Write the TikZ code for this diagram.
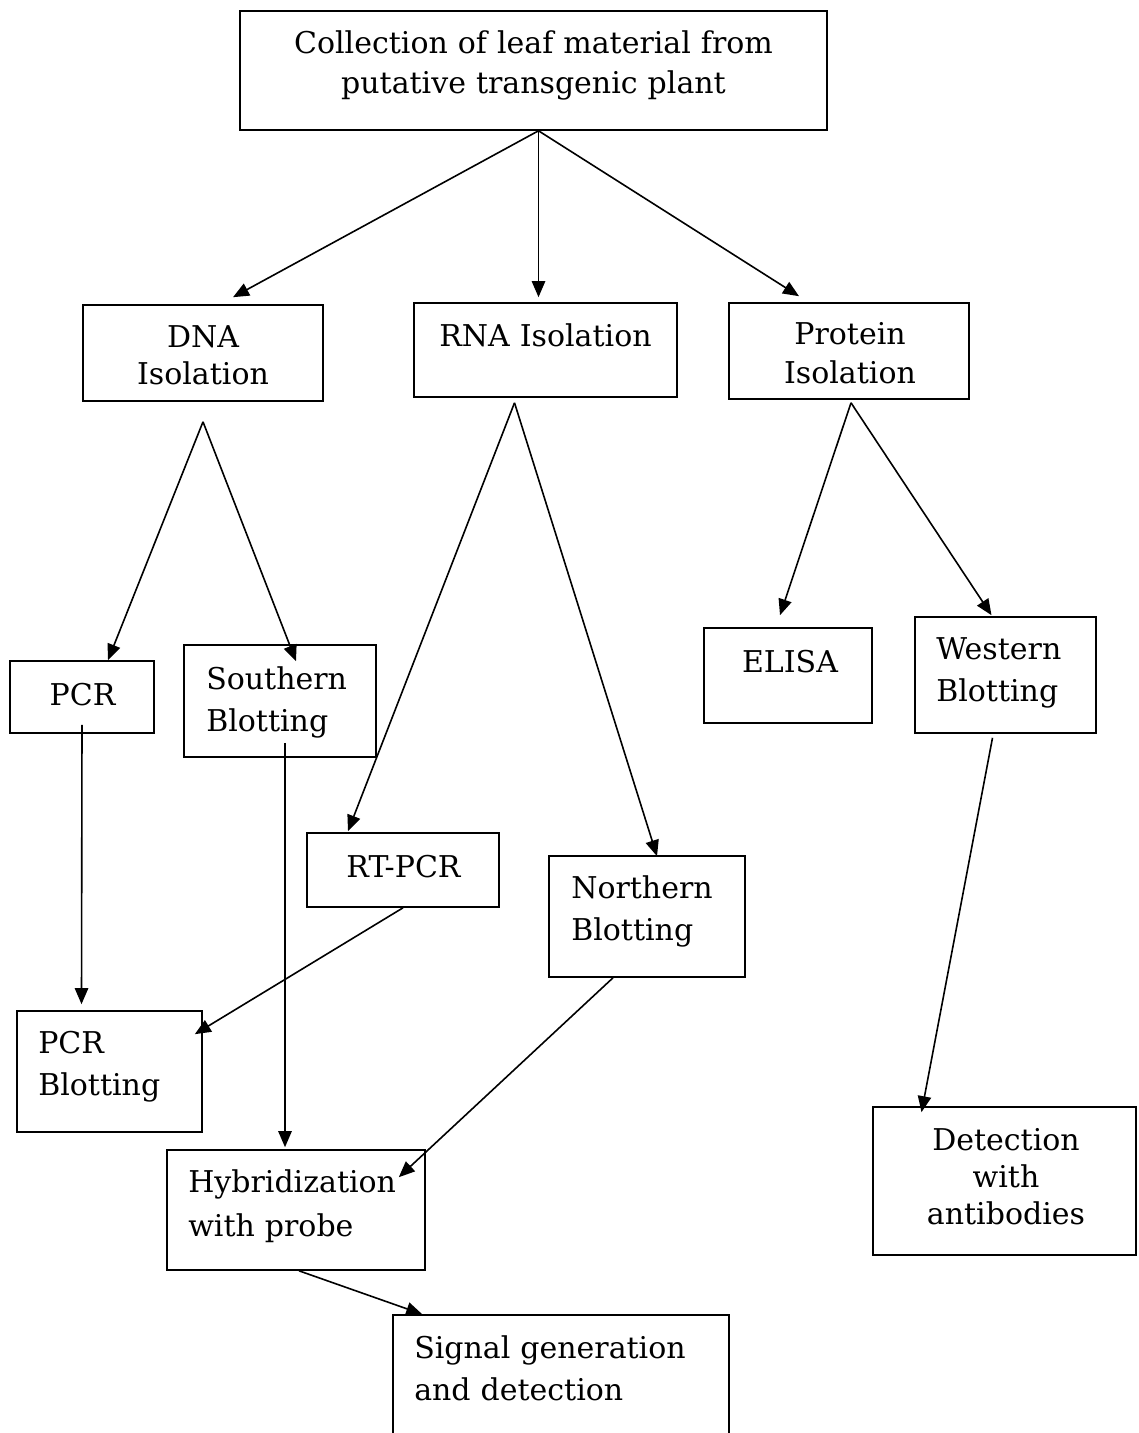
\documentclass[tikz,border=0pt]{standalone}
\usepackage{fontspec}
\setmainfont{DejaVu Serif}
\usetikzlibrary{arrows.meta,calc,fit}
\begin{document}
\begin{tikzpicture}[x=0.75pt,y=-0.75pt,
  box/.style={draw, line width=1.2pt, inner sep=0pt},
  arr/.style={line width=1.2pt, -{Triangle[length=12pt,width=10pt]}},
  txt/.style={inner sep=0pt, text width=560pt, font=\fontsize{22.5}{#1}\selectfont},
  ctxt/.style={txt=#1, align=center, anchor=base},
  ltxt/.style={txt=#1, align=left, anchor=base west}]
\path[use as bounding box] (0,0) rectangle (1138,1433);

% boxes
\node[box, fit={(240,11) (827,130)}] (top) {};
\node[box, fit={(83,305) (323,401)}] (dna) {};
\node[box, fit={(414,303) (677,397)}] (rna) {};
\node[box, fit={(729,303) (969,399)}] (prot) {};
\node[box, fit={(10,661) (154,733)}] (pcr) {};
\node[box, fit={(184,645) (376,757)}] (south) {};
\node[box, fit={(307,833) (499,907)}] (rtpcr) {};
\node[box, fit={(549,856) (745,977)}] (north) {};
\node[box, fit={(704,628) (872,723)}] (elisa) {};
\node[box, fit={(915,617) (1096,733)}] (west) {};
\node[box, fit={(17,1011) (202,1132)}] (pcrb) {};
\node[box, fit={(167,1150) (425,1270)}] (hyb) {};
\node[box, fit={(393,1315) (729,1445)}] (sig) {};
\node[box, fit={(873,1107) (1136,1255)}] (det) {};

% labels
\node[ctxt=30pt] (ttop) at (533.5,54) {Collection of leaf material from\\putative transgenic plant};
\node[ctxt=27.75pt] (tdna) at (203,348) {DNA\\Isolation};
\node[ctxt=28pt] (trna) at (545.5,347) {RNA Isolation};
\node[ctxt=28.5pt] (tprot) at (850,345) {Protein\\Isolation};
\node[ctxt=28pt] (tpcr) at (82.5,705) {PCR};
\node[ltxt=31.5pt] (tsouth) at (206,689) {Southern\\Blotting};
\node[ctxt=28pt] (trtpcr) at (403.5,877) {RT-PCR};
\node[ltxt=32pt] (tnorth) at (571,898) {Northern\\Blotting};
\node[ctxt=28pt] (telisa) at (790,672) {ELISA};
\node[ltxt=31.5pt] (twest) at (936,659) {Western\\Blotting};
\node[ltxt=32pt] (tpcrb) at (38,1053) {PCR\\Blotting};
\node[ltxt=33pt] (thyb) at (188,1192) {Hybridization\\with probe};
\node[ltxt=31.5pt] (tsig) at (414,1358) {Signal generation\\and detection};
\node[ctxt=27.75pt] (tdet) at (1006,1150) {Detection\\with\\antibodies};

% branch points below the boxes
\coordinate (fork) at ($(top.south)+(5,0)$);
\coordinate (dnafork) at ($(dna.south)+(0,20)$);
\coordinate (rnafork) at ($(rna.south)+(-31,5)$);
\coordinate (protfork) at ($(prot.south)+(2,3)$);

% connectors
\draw[arr] (fork) -- ($(dna.north)+(30,-7)$);
\draw[arr] (fork) -- ($(rna.north)+(-7,-5)$);
\draw[arr] (fork) -- ($(prot.north)+(-50,-6)$);

\draw[arr] (dnafork) -- ($(pcr.north)+(26,0)$);
\draw[arr] (dnafork) -- ($(south.north)+(16,17)$);

\draw[arr] (rnafork) -- ($(rtpcr.north)+(-55,-1)$);
\draw[arr] (rnafork) -- ($(north.north)+(10,1)$);

\draw[arr] (protfork) -- ($(elisa.north)+(-8,-12)$);
\draw[arr] (protfork) -- ($(west.north)+(-14,-1)$);

\draw[arr] ($(pcr.south)+(0,-9)$) -- ($(pcrb.north)+(-28,-6)$);
\draw[arr] ($(south.south)+(5,-15)$) -- ($(hyb.north)+(-11,-2)$);
\draw[arr] (rtpcr.south) -- ($(pcrb.north east)+(-8,24)$);
\draw[arr] ($(north.south)+(-34,0)$) -- ($(hyb.north east)+(-27,28)$);
\draw[arr] ($(west.south)+(-13,4)$) -- ($(det.north)+(-83,6)$);
\draw[arr] ($(hyb.south)+(3,0)$) -- ($(sig.north west)+(30,0)$);
\end{tikzpicture}
\end{document}
